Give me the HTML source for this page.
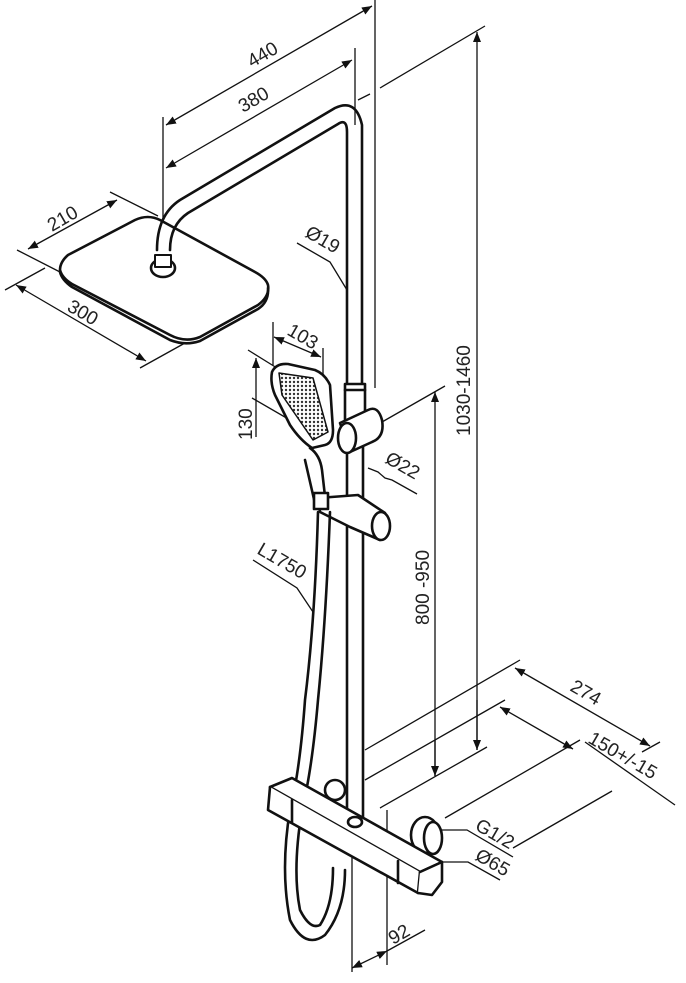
<!DOCTYPE html>
<html><head><meta charset="utf-8"><style>
html,body{margin:0;padding:0;background:#fff;}
svg{display:block}
text{font-family:"Liberation Sans",sans-serif;font-size:19px;fill:#222;}
</style></head><body>
<svg width="686" height="983" viewBox="0 0 686 983" xmlns="http://www.w3.org/2000/svg">
<defs>
<marker id="a" markerWidth="10" markerHeight="8" refX="10" refY="4" orient="auto-start-reverse" markerUnits="userSpaceOnUse"><path d="M0,0 L10,4 L0,8 z" fill="#111"/></marker>
<pattern id="g" width="4" height="4" patternUnits="userSpaceOnUse"><rect width="4" height="4" fill="#fff"/><circle cx="2" cy="2" r="1.2" fill="#333"/></pattern>
</defs>
<g stroke="#111" fill="none" stroke-width="1.3">
<line x1="375" y1="0" x2="375" y2="388"/>
<line x1="163" y1="117" x2="163" y2="240"/>
<line x1="355" y1="48" x2="355" y2="125"/>
<line x1="166" y1="125" x2="372" y2="6" marker-start="url(#a)" marker-end="url(#a)"/>
<line x1="166" y1="168" x2="352" y2="60" marker-start="url(#a)" marker-end="url(#a)"/>
<line x1="17" y1="250" x2="60" y2="272"/>
<line x1="110" y1="192" x2="158" y2="216"/>
<line x1="28" y1="249" x2="117" y2="200" marker-start="url(#a)" marker-end="url(#a)"/>
<line x1="5" y1="290" x2="45" y2="268"/>
<line x1="140" y1="368" x2="185" y2="343"/>
<line x1="16" y1="285" x2="146" y2="361" marker-start="url(#a)" marker-end="url(#a)"/>
<line x1="477" y1="32" x2="477" y2="750" marker-start="url(#a)"/>
<line x1="485" y1="26" x2="380" y2="88"/>
<line x1="370" y1="94" x2="358" y2="100"/>
<line x1="435" y1="392" x2="435" y2="776" marker-start="url(#a)"/>
<line x1="445" y1="386" x2="382" y2="422"/>
<line x1="477" y1="700" x2="477" y2="750" marker-end="url(#a)"/>
<line x1="435" y1="740" x2="435" y2="776" marker-end="url(#a)"/>
<line x1="520" y1="660" x2="365" y2="750"/>
<line x1="505" y1="700" x2="365" y2="780"/>
<line x1="487" y1="747" x2="380" y2="808"/>
<line x1="580" y1="740" x2="445" y2="818"/>
<line x1="612" y1="791" x2="513" y2="848"/>
<line x1="515" y1="668" x2="650" y2="746" marker-start="url(#a)" marker-end="url(#a)"/>
<line x1="642" y1="752" x2="660" y2="742"/>
<line x1="500" y1="707" x2="573" y2="749" marker-start="url(#a)" marker-end="url(#a)"/>
<line x1="585" y1="742" x2="675" y2="805"/>
<polyline points="297,243 330,262 347,290"/>
<polyline points="417,494 392,480 385,478 378,472 368,468"/>
<polyline points="273,322 273,365"/>
<polyline points="323,348 323,380"/>
<line x1="274" y1="337" x2="321" y2="357" marker-start="url(#a)" marker-end="url(#a)"/>
<line x1="248" y1="350" x2="285" y2="373"/>
<line x1="252" y1="398" x2="290" y2="420"/>
<line x1="256" y1="358" x2="256" y2="437" marker-start="url(#a)"/>
<polyline points="253,560 297,588 313,612"/>
<polyline points="440,830 467,830 513,857"/>
<polyline points="440,862 468,862 500,880"/>
<line x1="352" y1="818" x2="352" y2="972"/>
<line x1="387" y1="810" x2="387" y2="965"/>
<line x1="352" y1="968" x2="387" y2="951" marker-start="url(#a)" marker-end="url(#a)"/>
<line x1="387" y1="951" x2="425" y2="930"/>
</g>
<g stroke="#111" fill="#fff" stroke-width="2.6" stroke-linejoin="round" stroke-linecap="round">
<path d="M68,255 Q60,262 60,270 Q62,278 72,284 L170,335 Q185,343 200,337 L258,305 Q270,296 268,285 Q266,278 255,272 L160,220 Q148,214 135,220 Z"/>
<path d="M60,272 Q62,280 72,287 L170,340 Q185,346 200,341 L258,309 Q269,302 268,288" fill="none"/>
<path d="M157,250 Q157,215 180,200 L335,108 Q356,98 362,125 L362,385" fill="none"/>
<path d="M170,250 Q170,225 188,213 L338,124 Q347,118 347,132 L347,385" fill="none"/>
<ellipse cx="163" cy="268" rx="12" ry="9"/>
<rect x="155" y="255" width="16" height="12" stroke-width="2"/>
<line x1="347" y1="440" x2="347" y2="850"/>
<line x1="363" y1="440" x2="363" y2="850"/>
<rect x="345" y="384" width="20" height="42"/>
<path d="M345,390 L365,390"/>
<path d="M340,423 L368,410 Q378,405 382,420 Q385,437 372,442 L350,452 Z"/>
<ellipse cx="347" cy="438" rx="9" ry="15"/>
<path d="M318,498 L358,495 L385,513 Q392,530 380,540 L350,527 L320,512 Z"/>
<ellipse cx="381" cy="526" rx="9" ry="14"/>
<path d="M272,372 Q276,363 288,364 L315,370 Q325,374 330,385 L333,430 Q333,443 325,445 L312,448 Q300,440 290,425 L275,395 Q270,383 272,372 Z"/>
<path d="M279,373 L313,378 L328,432 L313,440 L282,395 Z" fill="url(#g)" stroke-width="1.5"/>
<path d="M310,448 Q320,455 322,470 L326,505 L316,508 L305,460"/>
<rect x="314" y="493" width="14" height="16"/>
<path d="M318,512 Q315,620 305,700 Q300,770 290,810 Q280,870 290,920 Q305,950 325,935 Q345,910 345,870" fill="none"/>
<path d="M330,512 Q326,620 318,700 Q312,770 302,810 Q292,870 300,910 Q310,930 320,925 Q333,905 333,868" fill="none"/>
<circle cx="335" cy="790" r="10"/>
<ellipse cx="425" cy="835" rx="14" ry="18"/>
<ellipse cx="433" cy="838" rx="9" ry="16"/>
<path d="M270,787 L292,778 L442,862 L420,872 Z"/>
<path d="M270,787 L268,810 L418,893 L420,872"/>
<path d="M420,872 L442,862 L442,882 L432,895 L418,893"/>
<line x1="292" y1="800" x2="292" y2="822"/>
<line x1="398" y1="861" x2="398" y2="883"/>
<ellipse cx="355" cy="822" rx="7" ry="5"/>
</g>
<g>
<text transform="translate(252,68) rotate(-30)">440</text>
<text transform="translate(243,113) rotate(-30)">380</text>
<text transform="translate(52,232) rotate(-30)">210</text>
<text transform="translate(66,310) rotate(30)">300</text>
<text transform="translate(304,236) rotate(30)">Ø19</text>
<text transform="translate(384,462) rotate(30)">Ø22</text>
<text transform="translate(286,334) rotate(30)">103</text>
<text transform="translate(252,440) rotate(-90)">130</text>
<text transform="translate(256,553) rotate(30)">L1750</text>
<text transform="translate(470,436) rotate(-90)">1030-1460</text>
<text transform="translate(429,625) rotate(-90)">800 -950</text>
<text transform="translate(569,690) rotate(30)">274</text>
<text transform="translate(587,742) rotate(30)">150+/-15</text>
<text transform="translate(474,829) rotate(30)">G1/2</text>
<text transform="translate(474,859) rotate(30)">Ø65</text>
<text transform="translate(393,945) rotate(-30)">92</text>
</g>
</svg>
</body></html>
